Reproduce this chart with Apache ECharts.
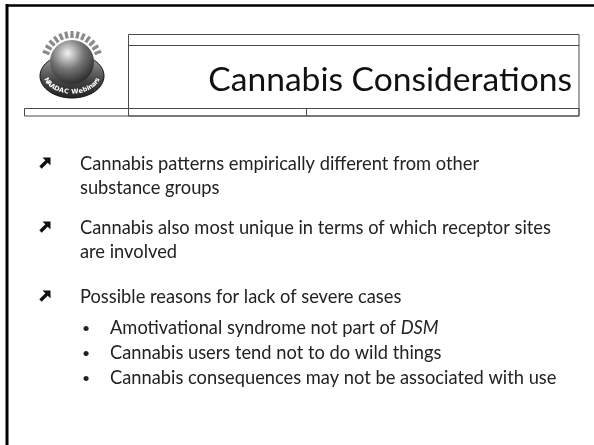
<!DOCTYPE html>
<html>
<head>
<meta charset="utf-8">
<script src="https://cdn.jsdelivr.net/npm/echarts@6/dist/echarts.min.js"></script>
<style>
  html, body { margin: 0; padding: 0; background: #fff; }
  #main { width: 594px; height: 445px; }
</style>
</head>
<body>
<div id="main"></div>
<script>
// slide content
var titleText = "Cannabis Considerations";
var bullets = [
  ["Cannabis patterns empirically different from other", "substance groups"],
  ["Cannabis also most unique in terms of which receptor sites", "are involved"],
  ["Possible reasons for lack of severe cases"]
];
var bulletY = [164, 228, 297];
var subBullets = [
  "Amotivational syndrome not part of {i|DSM}",
  "Cannabis users tend not to do wild things",
  "Cannabis consequences may not be associated with use"
];
var subBulletY = [328, 353, 378];
var logoLabel = "NAADAC Webinars";

var chart = echarts.init(document.getElementById("main"));
var font = "Lato, 'Open Sans', sans-serif";
var lineColor = "#4a4a4a";
var bodySize = 18.3;

var els = [];
// slide frame (top and left only)
els.push({ type: "line", shape: { x1: 6, y1: 5.5, x2: 594, y2: 5.5 }, style: { stroke: "#000", lineWidth: 2.5 } });
els.push({ type: "line", shape: { x1: 7, y1: 4, x2: 7, y2: 445 }, style: { stroke: "#000", lineWidth: 3 } });

// title boxes
els.push({ type: "rect", shape: { x: 128.5, y: 34.5, width: 450.5, height: 81.5 }, style: { fill: "none", stroke: lineColor, lineWidth: 1 } });
els.push({ type: "line", shape: { x1: 128.5, y1: 45.5, x2: 579, y2: 45.5 }, style: { stroke: lineColor, lineWidth: 1 } });
els.push({ type: "rect", shape: { x: 24.5, y: 108.5, width: 554.5, height: 7.5 }, style: { fill: "none", stroke: lineColor, lineWidth: 1 } });
els.push({ type: "line", shape: { x1: 306.5, y1: 108.5, x2: 306.5, y2: 116 }, style: { stroke: lineColor, lineWidth: 1 } });

els.push({
  type: "text", x: 572, y: 80,
  style: { text: titleText, font: "33.6px " + font, fill: "#111", align: "right", verticalAlign: "middle" }
});

// logo: globe on a dish
var logo = { type: "group", x: 72, y: 62, children: [] };
for (var k = 0; k < 13; k++) {
  var a = Math.PI * 1.08 + (k + 0.5) * Math.PI * 0.84 / 13;
  logo.children.push({
    type: "line",
    shape: { x1: Math.cos(a) * 24, y1: Math.sin(a) * 24, x2: Math.cos(a) * 31, y2: Math.sin(a) * 31 },
    style: { stroke: "#8a8a8a", lineWidth: 3.2 }
  });
}
logo.children.push({
  type: "ellipse", shape: { cx: 0, cy: 14, rx: 32, ry: 22 },
  style: { fill: new echarts.graphic.LinearGradient(0, 0, 0, 1, [{ offset: 0, color: "#aaa" }, { offset: 0.6, color: "#444" }, { offset: 1, color: "#222" }]), stroke: "#111", lineWidth: 1 }
});
logo.children.push({
  type: "circle", shape: { cx: 0, cy: 0, r: 22 },
  style: { fill: new echarts.graphic.RadialGradient(0.4, 0.3, 0.8, [{ offset: 0, color: "#f2f2f2" }, { offset: 0.45, color: "#777" }, { offset: 1, color: "#1a1a1a" }]) }
});
// curved label along the dish rim, spaced by glyph width
var labelFont = "bold 6.5px 'DejaVu Sans', sans-serif";
var ctx = document.createElement("canvas").getContext("2d");
ctx.font = labelFont;
var chars = logoLabel.split("");
var widths = chars.map(function (c) { return ctx.measureText(c).width; });
var total = widths.reduce(function (s, w) { return s + w; }, 0);
var acc = 0;
chars.forEach(function (c, i) {
  var mid = (acc + widths[i] / 2) / total;
  acc += widths[i];
  var th = (165 - mid * 150) * Math.PI / 180;
  var rx = 27, ry = 18;
  var dx = rx * Math.sin(th), dy = -ry * Math.cos(th);
  logo.children.push({
    type: "text", x: rx * Math.cos(th), y: 12 + ry * Math.sin(th), rotation: -Math.atan2(dy, dx),
    style: { text: c, font: labelFont, fill: "#fff", align: "center", verticalAlign: "middle" }
  });
});
els.push(logo);

// bullets: heavy north-east arrows
bullets.forEach(function (lines, i) {
  els.push({
    type: "group", x: 45, y: bulletY[i] - 1,
    children: [
      { type: "polygon", shape: { points: [[5.5, -5.5], [-2.5, -5.5], [5.5, 2.5]] }, style: { fill: "#111" } },
      { type: "line", shape: { x1: -4.5, y1: 4.5, x2: 2, y2: -2 }, style: { stroke: "#111", lineWidth: 3.4 } }
    ]
  });
  lines.forEach(function (t, j) {
    els.push({
      type: "text", x: 80, y: bulletY[i] + j * 24,
      style: { text: t, font: bodySize + "px " + font, fill: "#222", verticalAlign: "middle" }
    });
  });
});
subBullets.forEach(function (t, i) {
  els.push({
    type: "text", x: 86, y: subBulletY[i],
    style: { text: "\u2022", font: "14px " + font, fill: "#222", align: "center", verticalAlign: "middle" }
  });
  els.push({
    type: "text", x: 110, y: subBulletY[i],
    style: {
      text: t, font: bodySize + "px " + font, fill: "#222", verticalAlign: "middle",
      rich: { i: { font: "italic " + bodySize + "px " + font, fill: "#222" } }
    }
  });
});

chart.setOption({ backgroundColor: "#fff", animation: false, graphic: { elements: els } });
</script>
</body>
</html>
